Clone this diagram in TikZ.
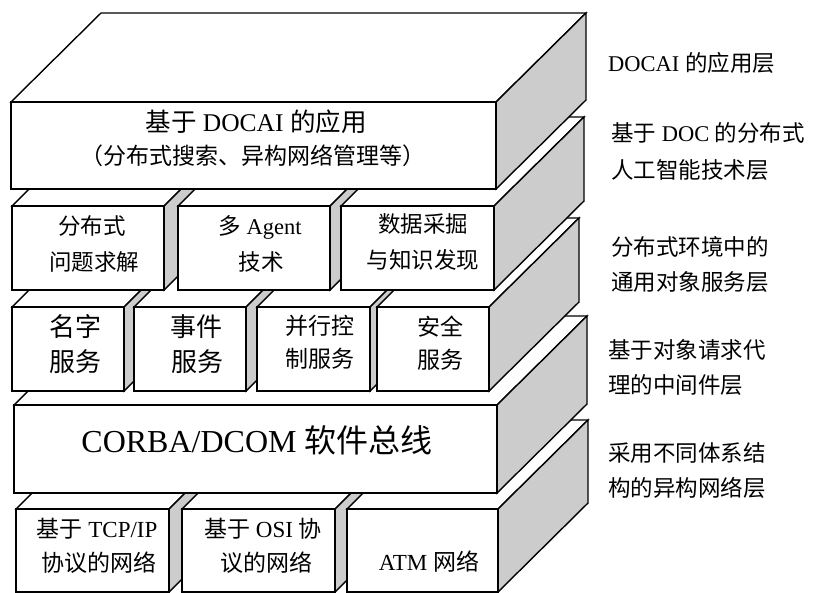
\documentclass[tikz,border=0pt]{standalone}
\usepackage{fontspec}
\setmainfont{Liberation Serif}
\newfontfamily\cjk{Noto Sans CJK SC}
\definecolor{sidegray}{RGB}{204,204,204}
\newcommand\fsz[1]{\fontsize{#1}{#1}\selectfont}
\tikzset{
  boxline/.style={draw=black, line width=1.4pt, line join=miter},
  txt/.style={inner sep=0pt, anchor=base},
  lab/.style={inner sep=0pt, anchor=base west, font=\fsz{22.5}},
}
% x1 yt x2 yb  (pixel coordinates, y downward)
\newcommand\slab[4]{%
  \filldraw[boxline, fill=white] (#1,#2) -- (#3,#2) -- ++(90,-89) -- ++({#1-#3},0) -- cycle;
  \filldraw[boxline, fill=sidegray] (#3,#2) -- ++(90,-89) -- ++(0,{#4-#2}) -- (#3,#4) -- cycle;
  \filldraw[boxline, fill=white] (#1,#2) rectangle (#3,#4);
}
\begin{document}
\begin{tikzpicture}[x=1pt, y=-1pt]
\useasboundingbox (0,0) rectangle (818,592);
% bottom row: networks
\slab{16}{509}{169}{592}
\slab{182}{509}{335}{592}
\slab{347}{509}{498}{592}
% CORBA bus
\slab{14}{405}{497}{493}
% row 3: services
\slab{12}{307}{124}{391}
\slab{134}{307}{246}{391}
\slab{257}{307}{370}{391}
\slab{377}{307}{489}{391}
% row 2: AI techniques
\slab{12}{206}{164}{290}
\slab{178}{206}{330}{290}
\slab{341}{206}{494}{290}
% top: applications
\slab{11}{102}{496}{189}

% texts in boxes
\node[txt, font=\fsz{25.5}] (app1) at (256,131.7) {{\cjk 基于} DOCAI {\cjk 的应用}};
\node[txt, font=\fsz{23}] (app2) at (253,164.7) {\cjk （分布式搜索、异构网络管理等）};

\node[txt, font=\fsz{22.5}] (ai1a) at (92,234.6) {\cjk 分布式};
\node[txt, font=\fsz{22.5}] (ai1b) at (94,270.6) {\cjk 问题求解};
\node[txt, font=\fsz{22.5}] (ai2a) at (260,234.6) {{\cjk 多} Agent};
\node[txt, font=\fsz{22.5}] (ai2b) at (261,270.6) {\cjk 技术};
\node[txt, font=\fsz{22.5}] (ai3a) at (423,232.6) {\cjk 数据采掘};
\node[txt, font=\fsz{22.5}] (ai3b) at (423,268.6) {\cjk 与知识发现};

\node[txt, font=\fsz{26}] (sv1a) at (75,336.9) {\cjk 名字};
\node[txt, font=\fsz{26}] (sv1b) at (75,371.9) {\cjk 服务};
\node[txt, font=\fsz{26}] (sv2a) at (196,336.9) {\cjk 事件};
\node[txt, font=\fsz{26}] (sv2b) at (197,371.9) {\cjk 服务};
\node[txt, font=\fsz{23}] (sv3a) at (320,334.7) {\cjk 并行控};
\node[txt, font=\fsz{23}] (sv3b) at (320,367.7) {\cjk 制服务};
\node[txt, font=\fsz{23}] (sv4a) at (440,335.7) {\cjk 安全};
\node[txt, font=\fsz{23}] (sv4b) at (440,368.7) {\cjk 服务};

\node[txt, font=\fsz{32}] (bus) at (257,452.5) {CORBA/DCOM {\cjk 软件总线}};

\node[txt, font=\fsz{23}] (nw1a) at (97,537.7) {{\cjk 基于} TCP/IP};
\node[txt, font=\fsz{23}] (nw1b) at (99,571.7) {\cjk 协议的网络};
\node[txt, font=\fsz{23}] (nw2a) at (263,537.7) {{\cjk 基于} OSI {\cjk 协}};
\node[txt, font=\fsz{23}] (nw2b) at (266,571.7) {\cjk 议的网络};
\node[txt, font=\fsz{23}] (nw3) at (429,570.7) {ATM {\cjk 网络}};

% layer labels
\node[lab] (l1) at (608,71.6) {DOCAI {\cjk 的应用层}};
\node[lab] (l2a) at (611,141.6) {{\cjk 基于} DOC {\cjk 的分布式}};
\node[lab] (l2b) at (611,178.6) {\cjk 人工智能技术层};
\node[lab] (l3a) at (611,255.6) {\cjk 分布式环境中的};
\node[lab] (l3b) at (611,290.6) {\cjk 通用对象服务层};
\node[lab] (l4a) at (608,358.6) {\cjk 基于对象请求代};
\node[lab] (l4b) at (608,393.6) {\cjk 理的中间件层};
\node[lab] (l5a) at (608,461.6) {\cjk 采用不同体系结};
\node[lab] (l5b) at (608,496.6) {\cjk 构的异构网络层};
\end{tikzpicture}
\end{document}
